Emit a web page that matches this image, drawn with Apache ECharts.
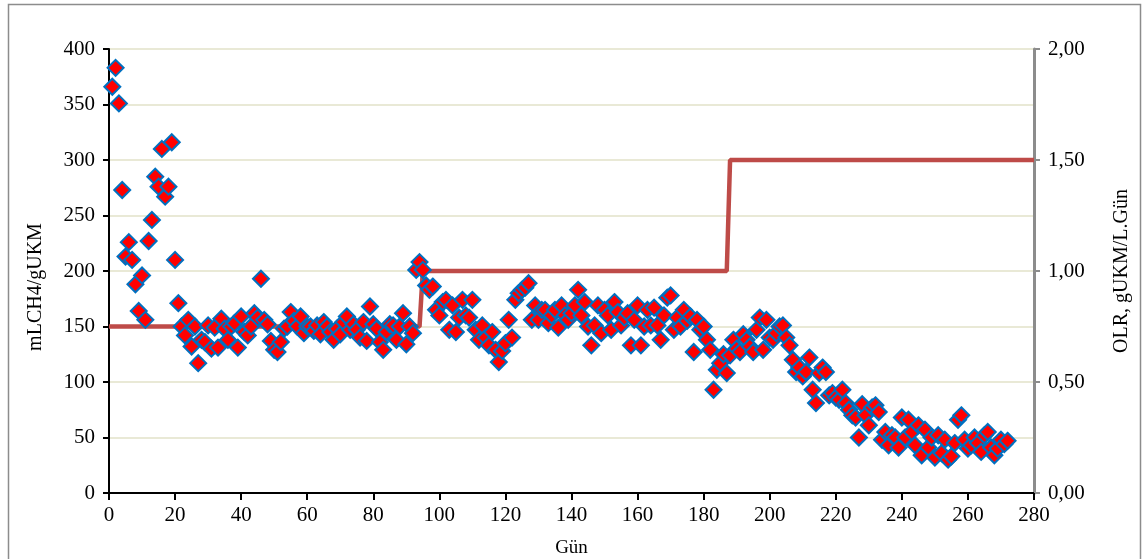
<!DOCTYPE html>
<html>
<head>
<meta charset="utf-8">
<title>mLCH4/gUKM - OLR</title>
<script src="https://cdn.jsdelivr.net/npm/echarts@6/dist/echarts.min.js"></script>
<style>
    html, body { margin: 0; padding: 0; background: #fff; }
    #chart { width: 1144px; height: 559px; }
</style>
</head>
<body>
<div id="chart"></div>
<script>
// gün (x) ve metan verimi (sol eksen)
var days = [];
for (var d = 1; d <= 272; d++) { days.push(d); }

var methane = [
    366, 383, 351, 273, 213, 226, 210, 188, 164, 196,
    156, 227, 246, 285, 276, 310, 267, 276, 316, 210,
    171, 150, 142, 156, 132, 150, 117, 138, 136, 151,
    130, 149, 131, 157, 148, 138, 150, 153, 131, 159,
    145, 142, 150, 162, 158, 193, 156, 152, 137, 129,
    127, 136, 148, 150, 163, 155, 150, 159, 144, 150,
    150, 146, 151, 143, 154, 150, 145, 138, 148, 143,
    154, 159, 147, 152, 147, 140, 154, 137, 168, 152,
    148, 136, 129, 145, 152, 151, 138, 150, 162, 134,
    150, 144, 201, 208, 201, 187, 183, 186, 165, 160,
    172, 174, 147, 169, 145, 158, 174, 160, 158, 174,
    147, 138, 151, 140, 133, 145, 129, 118, 128, 135,
    156, 140, 174, 180, 183, 185, 189, 156, 169, 156,
    165, 165, 153, 160, 165, 149, 169, 160, 156, 162,
    169, 183, 160, 172, 150, 133, 151, 169, 144, 165,
    160, 147, 172, 163, 151, 158, 162, 133, 156, 169,
    133, 150, 165, 151, 167, 151, 138, 160, 176, 178,
    147, 158, 150, 165, 155, 159, 127, 156, 147, 150,
    138, 129, 93, 111, 117, 125, 108, 124, 138, 130,
    127, 143, 138, 132, 127, 147, 158, 129, 156, 140,
    138, 144, 150, 151, 140, 133, 120, 109, 113, 105,
    109, 122, 93, 81, 108, 113, 109, 88, 90, 86,
    84, 93, 81, 75, 70, 68, 50, 80, 70, 61,
    77, 79, 73, 48, 55, 43, 52, 50, 41, 68,
    50, 66, 55, 43, 61, 34, 57, 41, 50, 32,
    52, 36, 48, 30, 33, 45, 66, 70, 48, 40,
    43, 50, 45, 37, 52, 55, 41, 34, 40, 48,
    44, 47
];

// OLR basamaklari (sag eksen)
var olrDays = [0, 94, 95, 187, 188, 280];
var olrValues = [0.75, 0.75, 1.00, 1.00, 1.50, 1.50];

var xTicks = { min: 0, max: 280, interval: 20 };
var leftTicks = { min: 0, max: 400, interval: 50 };
var rightTicks = { min: 0, max: 2, interval: 0.5 };

var font = 'Liberation Serif';

function zip(a, b) {
    var out = [];
    for (var i = 0; i < a.length; i++) { out.push([a[i], b[i]]); }
    return out;
}

var chart = echarts.init(document.getElementById('chart'));

chart.setOption({
    animation: false,
    backgroundColor: '#fff',
    textStyle: { fontFamily: font, color: '#000' },
    grid: {
        left: 109, right: 110, top: 49, bottom: 66,
        outerBoundsMode: 'none', containLabel: false,
        show: true, borderColor: '#000', borderWidth: 2, backgroundColor: 'transparent'
    },
    graphic: [{
        type: 'rect',
        shape: { x: 8.5, y: 4.5, width: 1132, height: 600 },
        style: { fill: 'none', stroke: '#8c8c8c', lineWidth: 1.5 },
        silent: true, z: -1
    }],
    xAxis: {
        type: 'value',
        min: xTicks.min, max: xTicks.max, interval: xTicks.interval,
        name: 'Gün', nameLocation: 'middle', nameGap: 46,
        nameTextStyle: { fontFamily: font, fontSize: 19, color: '#000' },
        axisLine: { onZero: false, lineStyle: { color: '#000', width: 2 } },
        axisTick: { length: 7, lineStyle: { color: '#000', width: 2 } },
        axisLabel: { fontFamily: font, fontSize: 21, color: '#000', margin: 12 },
        splitLine: { show: false }
    },
    yAxis: [{
        type: 'value',
        position: 'left',
        min: leftTicks.min, max: leftTicks.max, interval: leftTicks.interval,
        name: 'mLCH4/gUKM', nameLocation: 'middle', nameGap: 63, nameRotate: 90,
        nameTextStyle: { fontFamily: font, fontSize: 20, color: '#000', padding: [0, 32, 0, 0] },
        axisLine: { show: true, lineStyle: { color: '#000', width: 2 } },
        axisTick: { show: true, length: 6, lineStyle: { color: '#000', width: 2 } },
        axisLabel: { fontFamily: font, fontSize: 21, color: '#000', margin: 14 },
        splitLine: { show: true, lineStyle: { color: '#E9E9D6', width: 2 } }
    }, {
        type: 'value',
        position: 'right',
        min: rightTicks.min, max: rightTicks.max, interval: rightTicks.interval,
        name: 'OLR, gUKM/L.Gün', nameLocation: 'middle', nameGap: 78, nameRotate: 90,
        nameTextStyle: { fontFamily: font, fontSize: 20, color: '#000' },
        axisLine: { show: true, lineStyle: { color: '#8c8c8c', width: 3 } },
        axisTick: { show: true, length: 6, lineStyle: { color: '#8c8c8c', width: 2 } },
        axisLabel: {
            fontFamily: font, fontSize: 21, color: '#000', margin: 14,
            formatter: function (v) { return v.toFixed(2).replace('.', ','); }
        },
        splitLine: { show: false }
    }],
    series: [{
        name: 'OLR',
        type: 'line',
        yAxisIndex: 1,
        data: zip(olrDays, olrValues),
        symbol: 'none',
        lineStyle: { color: '#BE4B48', width: 4.5 },
        z: 2
    }, {
        name: 'mLCH4/gUKM',
        type: 'scatter',
        yAxisIndex: 0,
        data: zip(days, methane),
        symbol: 'diamond',
        symbolSize: 16,
        itemStyle: { color: '#FF0000', borderColor: '#0070C0', borderWidth: 2, opacity: 1 },
        z: 3
    }]
});
</script>
</body>
</html>
